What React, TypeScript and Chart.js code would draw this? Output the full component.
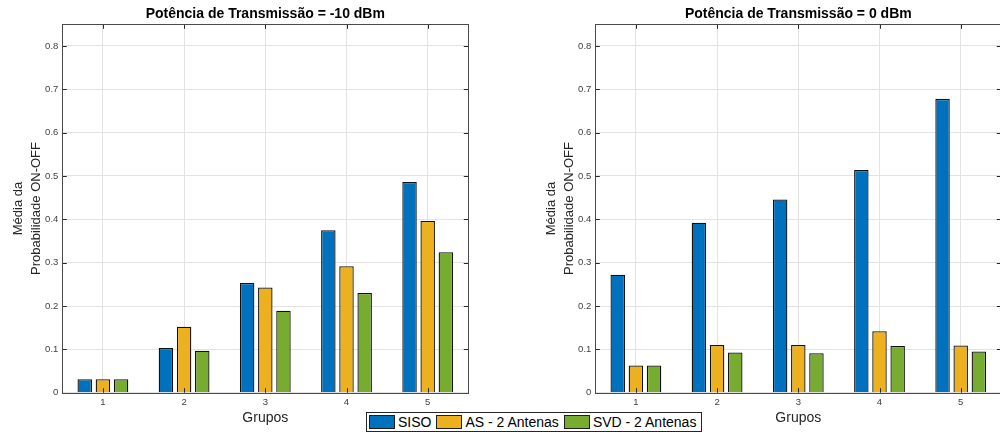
import React, { useEffect, useRef } from 'react';
import { Chart, registerables } from 'chart.js';

Chart.register(...registerables);

// ---------- data ----------
const groups = ['1', '2', '3', '4', '5'];
const seriesNames = ['SISO', 'AS - 2 Antenas', 'SVD - 2 Antenas'];
const seriesColors = ['#0072BD', '#EDB120', '#77AC30'];

// Potência de Transmissão = -10 dBm
const siso10 = [0.031, 0.103, 0.253, 0.375, 0.486];
const as10 = [0.031, 0.152, 0.243, 0.292, 0.396];
const svd10 = [0.031, 0.097, 0.189, 0.23, 0.324];

// Potência de Transmissão = 0 dBm
const siso0 = [0.272, 0.392, 0.446, 0.514, 0.678];
const as0 = [0.063, 0.11, 0.11, 0.142, 0.109];
const svd0 = [0.063, 0.093, 0.091, 0.108, 0.095];

const yTickValues = [0, 0.1, 0.2, 0.3, 0.4, 0.5, 0.6, 0.7, 0.8];
const yMax = 0.85;

const titleLeft = 'Potência de Transmissão = -10 dBm';
const titleRight = 'Potência de Transmissão = 0 dBm';
const xLabel = 'Grupos';
const yLabel = ['Média da', 'Probabilidade ON-OFF'];

const FONT = "'Liberation Sans', Arial, Helvetica, sans-serif";

const boxPlugin = {
  id: 'matlabBox',
  afterDatasetsDraw(chart: any) {
    const { ctx, chartArea, scales } = chart;
    const { left, right, top, bottom } = chartArea;
    const x = scales.x;
    const y = scales.y;
    const tl = 4.5;
    ctx.save();
    ctx.strokeStyle = '#262626';
    ctx.lineWidth = 1;
    ctx.beginPath();
    x.ticks.forEach((_: any, i: number) => {
      const px = Math.round(x.getPixelForTick(i)) + 0.5;
      ctx.moveTo(px, bottom);
      ctx.lineTo(px, bottom - tl);
      ctx.moveTo(px, top);
      ctx.lineTo(px, top + tl);
    });
    y.ticks.forEach((_: any, i: number) => {
      const py = Math.round(y.getPixelForTick(i)) + 0.5;
      ctx.moveTo(left, py);
      ctx.lineTo(left + tl, py);
      ctx.moveTo(right, py);
      ctx.lineTo(right - tl, py);
    });
    ctx.stroke();
    ctx.strokeStyle = '#4a4a4a';
    ctx.strokeRect(Math.round(left) + 0.5, Math.round(top) + 0.5, Math.round(right) - Math.round(left), Math.round(bottom) - Math.round(top));
    ctx.restore();
  },
};

function BarPanel({ title, values, left }: { title: string; values: number[][]; left: number }) {
  const ref = useRef<HTMLCanvasElement | null>(null);
  useEffect(() => {
    if (!ref.current) return;
    const chart = new Chart(ref.current, {
      type: 'bar',
      data: {
        labels: groups,
        datasets: values.map((v, i) => ({
          label: seriesNames[i],
          data: v,
          backgroundColor: seriesColors[i],
          borderColor: '#111111',
          borderWidth: 1.3,
          borderSkipped: 'start',
          categoryPercentage: 0.671,
          barPercentage: 0.797,
        })),
      },
      options: {
        responsive: false,
        animation: false,
        layout: { padding: { left: 0, right: 31.7, top: 0, bottom: 0 } },
        plugins: {
          legend: { display: false },
          tooltip: { enabled: false },
          title: {
            display: true,
            fullSize: false,
            text: title,
            color: '#000',
            font: { family: FONT, size: 14, weight: 'bold', lineHeight: 1.2 },
            padding: { top: 6, bottom: 1.5 },
          },
        },
        scales: {
          x: {
            type: 'category',
            offset: true,
            grid: { offset: false, color: '#e3e3e3', drawTicks: false },
            border: { display: false },
            ticks: { color: '#404040', font: { family: FONT, size: 9.5 }, padding: 4, maxRotation: 0 },
            title: {
              display: true,
              text: xLabel,
              color: '#262626',
              font: { family: FONT, size: 14, lineHeight: 1.2 },
              padding: { top: 0, bottom: 5.6 },
            },
            afterFit: (s: any) => {
              s.height = 39.3;
            },
          },
          y: {
            min: 0,
            max: yMax,
            grid: { color: '#e3e3e3', drawTicks: false },
            border: { display: false },
            afterBuildTicks: (s: any) => {
              s.ticks = yTickValues.map((v) => ({ value: v }));
            },
            ticks: {
              color: '#404040',
              font: { family: FONT, size: 9.5 },
              padding: 4,
              callback: (v: any) => (Number(v) === 0 ? '0' : Number(v).toFixed(1)),
            },
            title: {
              display: true,
              text: yLabel,
              color: '#262626',
              font: { family: FONT, size: 13, lineHeight: 1.45 },
              padding: { top: 8.5, bottom: 0 },
            },
            afterFit: (s: any) => {
              s.width = 62.3;
            },
          },
        },
      },
      plugins: [boxPlugin],
    } as any);
    return () => chart.destroy();
  }, [title, values]);
  return (
    <div style={{ position: 'absolute', left, top: 0, width: 500, height: 432 }}>
      <canvas ref={ref} width={500} height={432} style={{ display: 'block' }} />
    </div>
  );
}

function Legend() {
  return (
    <div
      style={{
        position: 'absolute',
        left: 366,
        top: 412,
        width: 336,
        height: 20,
        boxSizing: 'border-box',
        border: '1px solid #262626',
        background: '#fff',
        display: 'flex',
        alignItems: 'center',
        paddingLeft: 2,
        fontFamily: FONT,
        fontSize: 14,
        color: '#000',
        zIndex: 5,
      }}
    >
      {seriesNames.map((n, i) => (
        <div key={n} style={{ display: 'flex', alignItems: 'center', marginRight: 5 }}>
          <div
            style={{
              width: 26,
              height: 14,
              boxSizing: 'border-box',
              border: '1px solid #1f1f1f',
              background: seriesColors[i],
            }}
          />
          <span style={{ marginLeft: 3, lineHeight: '16px', whiteSpace: 'nowrap' }}>{n}</span>
        </div>
      ))}
    </div>
  );
}

export default function App() {
  return (
    <div
      style={{
        position: 'fixed',
        left: 0,
        top: 0,
        width: 1000,
        height: 432,
        overflow: 'hidden',
        background: '#fff',
      }}
    >
      <BarPanel title={titleLeft} values={[siso10, as10, svd10]} left={0} />
      <BarPanel title={titleRight} values={[siso0, as0, svd0]} left={533} />
      <Legend />
    </div>
  );
}
